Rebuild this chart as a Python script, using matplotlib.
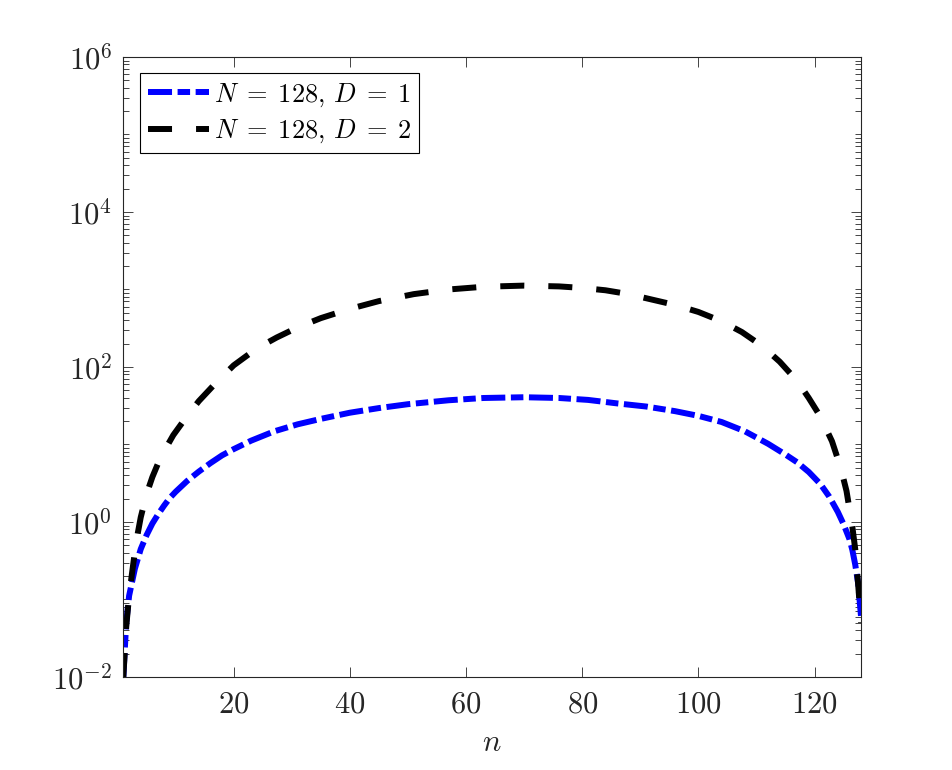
import matplotlib
matplotlib.use("Agg")
import matplotlib.pyplot as plt
from matplotlib.ticker import FixedLocator, FixedFormatter, LogLocator, NullFormatter
import numpy as np

plt.rcParams['mathtext.fontset'] = 'cm'
plt.rcParams['font.family'] = 'serif'
plt.rcParams['lines.scale_dashes'] = False

# values (n, value)
n_d1 = [1, 1.5, 2, 3, 4, 5, 6, 7, 8, 9, 10, 12, 14, 16, 18, 20, 23, 27, 31, 35,
        40, 45, 50, 57, 63, 70, 76, 81, 86, 91, 96, 100, 104, 108, 112, 115, 117,
        119, 121, 122.5, 124, 125, 126, 126.5, 127, 127.5, 128]
v_d1 = [0.01, 0.05, 0.112, 0.251, 0.447, 0.676, 0.955, 1.26, 1.62, 2.04, 2.45,
        3.39, 4.47, 5.75, 7.24, 8.71, 11.2, 14.8, 18.2, 21.4, 25.7, 29.5, 33.1,
        37.2, 39.8, 40.7, 39.8, 37.6, 33.9, 30.9, 26.9, 23.4, 19.5, 14.8, 10.2,
        7.41, 5.89, 4.42, 3.09, 2.14, 1.35, 0.933, 0.603, 0.437, 0.282, 0.162, 0.060]

n_d2 = [1, 1.5, 2, 2.5, 3, 3.5, 4, 5, 6, 7, 8, 9.6, 12, 14, 17, 20, 24, 27.4, 31,
        35, 40, 45, 51, 57, 63, 70, 76, 80, 84, 88, 92, 96, 100, 104, 107.5, 111,
        114, 117, 119, 121, 123, 124.5, 125.5, 126.5, 127, 127.5, 128]
v_d2 = [0.01, 0.0447, 0.112, 0.219, 0.417, 0.724, 1.15, 2.29, 3.80, 5.75, 8.13,
        13.2, 23.4, 36.3, 63.1, 105, 174, 240, 324, 427, 562, 708, 871, 1000,
        1084, 1122, 1096, 1047, 977, 871, 741, 631, 513, 389, 282, 186, 117, 66.1,
        39.8, 22.9, 11.0, 5.01, 2.51, 0.871, 0.447, 0.158, 0.050]

x_ticks = [20, 40, 60, 80, 100, 120]
y_ticks = [1e-2, 1e0, 1e2, 1e4, 1e6]
y_ticklabels = ['$10^{-2}$', '$10^{0}$', '$10^{2}$', '$10^{4}$', '$10^{6}$']

fig = plt.figure(figsize=(9.53, 7.7), dpi=100)
ax = fig.add_axes([0.1294, 0.1208, 0.7741, 0.8052])

ax.plot(n_d1, v_d1, color=(0, 0, 1), lw=4.3, dashes=[17.3, 4, 9, 4],
        label=r'$N\;=\;128,\,D\;=\;1$')
ax.plot(n_d2, v_d2, color='black', lw=4.3, dashes=[17.3, 17.3],
        label=r'$N\;=\;128,\,D\;=\;2$')

ax.set_yscale('log')
ax.set_xlim(1, 128)
ax.set_ylim(1e-2, 1e6)

ax.xaxis.set_major_locator(FixedLocator(x_ticks))
ax.xaxis.set_major_formatter(FixedFormatter(['$%d$' % t for t in x_ticks]))
ax.yaxis.set_major_locator(FixedLocator(y_ticks))
ax.yaxis.set_major_formatter(FixedFormatter(y_ticklabels))
ax.yaxis.set_minor_locator(LogLocator(base=10, subs=np.arange(1, 10), numticks=20))
ax.yaxis.set_minor_formatter(NullFormatter())

ax.tick_params(which='both', direction='in', top=True, right=True,
               colors='#262626', labelsize=22, width=0.6)
ax.tick_params(which='major', length=7, pad=8)
ax.tick_params(which='minor', length=4)
for s in ax.spines.values():
    s.set_linewidth(0.8)
    s.set_color('#262626')

ax.set_xlabel('$n$', fontsize=22, color='#262626', labelpad=6)

leg = ax.legend(loc='upper left', bbox_to_anchor=(0.0226, 0.974), borderaxespad=0,
                fontsize=19, frameon=True, fancybox=False, framealpha=1,
                edgecolor='black', handlelength=2.3, handletextpad=0.2,
                borderpad=0.3, labelspacing=0.35)
leg.get_frame().set_linewidth(0.8)

fig.savefig('out.png', dpi=100)
